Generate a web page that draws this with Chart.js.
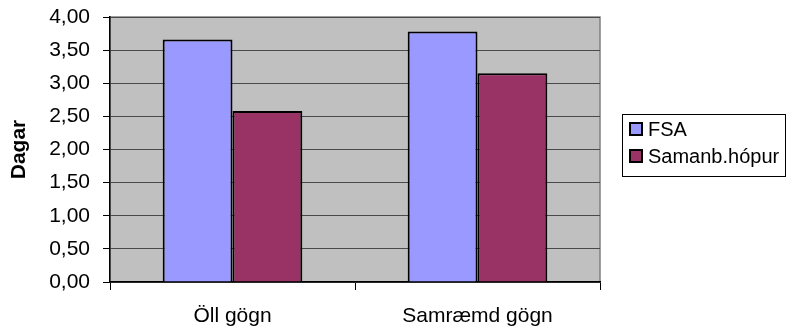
<!DOCTYPE html>
<html>
<head>
<meta charset="utf-8">
<script src="https://cdn.jsdelivr.net/npm/chart.js@4/dist/chart.umd.min.js"></script>
<style>
  html, body { margin: 0; padding: 0; background: #fff; }
  #wrap { width: 786px; height: 332px; }
</style>
</head>
<body>
<div id="wrap"><canvas id="c" width="786" height="332"></canvas></div>
<script>
// data
const categories = ['Öll gögn', 'Samræmd gögn'];
const seriesNames = ['FSA', 'Samanb.hópur'];
const fsaValues = [3.66, 3.78];
const samanbValues = [2.58, 3.15];
const yTicks = [0, 0.5, 1, 1.5, 2, 2.5, 3, 3.5, 4];

const colors = ['#9999FF', '#993366'];
const FONT = 'Arial, "Liberation Sans", sans-serif';

// grey plot background with a thin frame
const plotBg = {
  id: 'plotBg',
  beforeDraw(chart) {
    const { ctx, chartArea: a } = chart;
    ctx.save();
    ctx.fillStyle = '#C0C0C0';
    ctx.fillRect(a.left, a.top, a.right - a.left, a.bottom - a.top);
    ctx.strokeStyle = '#808080';
    ctx.lineWidth = 1.5;
    ctx.strokeRect(a.left, a.top, a.right - a.left, a.bottom - a.top);
    ctx.restore();
  }
};

// boxed legend to the right of the plot
const boxLegend = {
  id: 'boxLegend',
  afterDraw(chart) {
    const ctx = chart.ctx;
    const x = 622, y = 114, w = 163, h = 62;
    ctx.save();
    ctx.fillStyle = '#fff';
    ctx.fillRect(x, y, w, h);
    ctx.strokeStyle = '#000';
    ctx.lineWidth = 1;
    ctx.strokeRect(x + 0.5, y + 0.5, w, h);
    ctx.font = '20px ' + FONT;
    ctx.textBaseline = 'middle';
    chart.data.datasets.forEach((ds, i) => {
      const cy = y + 15 + i * 27;
      ctx.fillStyle = ds.backgroundColor;
      ctx.fillRect(x + 8, cy - 6, 12, 12);
      ctx.strokeStyle = '#000';
      ctx.lineWidth = 2;
      ctx.strokeRect(x + 8, cy - 6, 12, 12);
      ctx.fillStyle = '#000';
      ctx.fillText(ds.label, x + 26, cy + 1);
    });
    ctx.restore();
  }
};

new Chart(document.getElementById('c'), {
  type: 'bar',
  data: {
    labels: categories,
    datasets: [
      { label: seriesNames[0], data: fsaValues, backgroundColor: colors[0] },
      { label: seriesNames[1], data: samanbValues, backgroundColor: colors[1] }
    ].map(d => Object.assign(d, {
      borderColor: '#000', borderWidth: 2,
      categoryPercentage: 0.57, barPercentage: 1.0
    }))
  },
  options: {
    responsive: false,
    animation: false,
    layout: { padding: { top: 17, right: 186, bottom: 0, left: 0 } },
    plugins: { legend: { display: false }, tooltip: { enabled: false } },
    scales: {
      x: {
        grid: { drawOnChartArea: false, tickLength: 8, tickColor: '#000', offset: true },
        border: { color: '#000', width: 1.5 },
        ticks: { color: '#000', font: { family: FONT, size: 21 }, padding: 14 },
        afterFit(scale) { scale.height = 50; }
      },
      y: {
        min: 0, max: 4,
        afterBuildTicks(scale) { scale.ticks = yTicks.map(v => ({ value: v })); },
        grid: { color: '#4a4a4a', lineWidth: 1, tickLength: 7, tickColor: '#000' },
        border: { color: '#000', width: 1.5 },
        ticks: {
          color: '#000', font: { family: FONT, size: 21 }, padding: 13,
          callback: v => v.toFixed(2).replace('.', ',')
        },
        title: {
          display: true, text: 'Dagar', color: '#000',
          font: { family: FONT, size: 21, weight: 'bold' }, padding: { top: 7, bottom: 0 }
        },
        afterFit(scale) {
          scale.width = 110;
          // tick padding would otherwise push the plot top down
          scale.paddingTop = 0;
          scale.paddingBottom = 0;
        }
      }
    }
  },
  plugins: [plotBg, boxLegend]
});
</script>
</body>
</html>
